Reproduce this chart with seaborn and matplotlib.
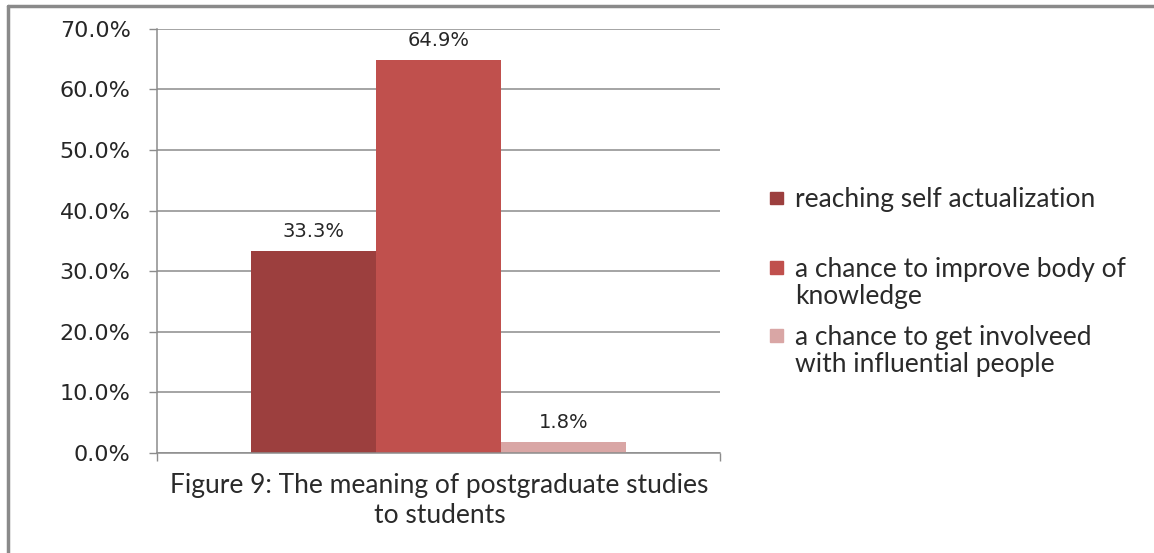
import pandas as pd
import matplotlib.pyplot as plt
import seaborn as sns
from matplotlib.patches import Rectangle
from matplotlib.lines import Line2D

# Dati
answers = ["reaching self actualization",
           "a chance to improve body of knowledge",
           "a chance to get involveed with influential people"]
legend_labels = ["reaching self actualization",
                 "a chance to improve body of\nknowledge",
                 "a chance to get involveed\nwith influential people"]
shares = [0.333, 0.649, 0.018]
colors = ["#9C3F3E", "#C0504D", "#D9A6A5"]
y_ticks = [0.0, 0.1, 0.2, 0.3, 0.4, 0.5, 0.6, 0.7]
caption = "Figure 9: The meaning of postgraduate studies\nto students"

df = pd.DataFrame({"group": ["all"] * len(answers), "answer": answers, "share": shares})

sns.set_style("white")
plt.rcParams["font.family"] = ["DejaVu Sans"]

fig = plt.figure(figsize=(11.54, 5.53), dpi=100)
ax = fig.add_axes([0.136, 0.181, 0.488, 0.767])

sns.barplot(data=df, x="group", y="share", hue="answer", hue_order=answers,
            palette=colors, saturation=1, width=0.665, linewidth=0,
            legend=False, ax=ax)

for cont, val in zip(ax.containers, shares):
    ax.bar_label(cont, labels=[f"{val:.1%}"], padding=7, fontsize=14, color="#262626")

ax.set_xlim(-0.5, 0.5)
ax.set_ylim(0, 0.7)
ax.set_yticks(y_ticks)
ax.set_yticklabels([f"{t:.1%}" for t in y_ticks], fontsize=16, color="#262626")
ax.set_xticks([-0.5, 0.5])
ax.set_xticklabels(["", ""])
ax.set_xlabel("")
ax.set_ylabel("")
ax.yaxis.grid(True, color="#8C8C8C", linewidth=1.1)
ax.set_axisbelow(True)
ax.tick_params(axis="y", length=6, width=1, color="#8C8C8C", pad=13, left=True)
ax.tick_params(axis="x", length=6, width=1, color="#8C8C8C", bottom=True)
for side in ["top", "right"]:
    ax.spines[side].set_visible(False)
for side in ["left", "bottom"]:
    ax.spines[side].set_color("#8C8C8C")
    ax.spines[side].set_linewidth(1.1)

# Didascalia
fig.text(0.381, 0.095, caption, ha="center", va="center", fontsize=19,
         family="Lato", color="#2a2a2a", linespacing=1.25)

# Legenda a destra
legend_y = [0.642, 0.517, 0.394]
for lab, col, yy in zip(legend_labels, colors, legend_y):
    fig.patches.append(Rectangle((0.667, yy - 0.0118), 0.0113, 0.0235,
                                 transform=fig.transFigure, color=col))
    fig.text(0.689, yy + 0.019, lab, ha="left", va="top", fontsize=19,
             family="Lato", color="#2a2a2a", linespacing=1.12)

# Cornice esterna (solo sopra e a sinistra)
fig.lines.append(Line2D([0.007, 1.0], [0.99, 0.99], transform=fig.transFigure,
                        color="#8A8A8A", linewidth=2.5))
fig.lines.append(Line2D([0.007, 0.007], [0.0, 0.99], transform=fig.transFigure,
                        color="#8A8A8A", linewidth=2.5))

fig.savefig("out.png", dpi=100)
